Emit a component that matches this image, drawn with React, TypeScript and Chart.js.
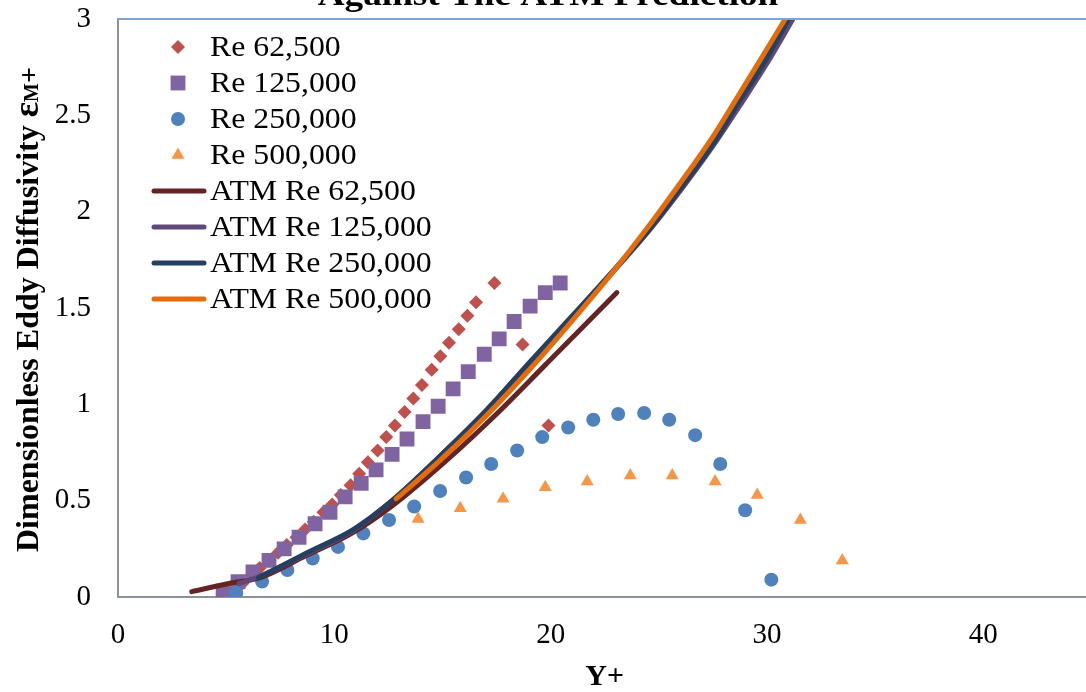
import React, { useEffect, useRef } from 'react';
import { Chart, registerables } from 'chart.js';
import { drawPoint } from 'chart.js/helpers';

Chart.register(...registerables);

// ---- Data ----
const re62500X = [4.9, 5.3, 5.75, 6.15, 6.55, 7.0, 7.4, 7.8, 8.25, 8.65, 9.05, 9.5, 9.9, 10.3, 10.75, 11.15, 11.55, 12.0, 12.4, 12.8, 13.25, 13.65, 14.05, 14.5, 14.9, 15.3, 15.75, 16.15, 16.55, 17.4, 18.7, 19.9];
const re62500Y = [0.0, 0.03, 0.07, 0.11, 0.15, 0.19, 0.23, 0.27, 0.31, 0.35, 0.39, 0.44, 0.48, 0.53, 0.58, 0.64, 0.70, 0.76, 0.83, 0.89, 0.96, 1.03, 1.10, 1.18, 1.25, 1.32, 1.39, 1.46, 1.53, 1.63, 1.31, 0.89];

const re125000X = [4.86, 5.55, 6.24, 6.98, 7.68, 8.37, 9.11, 9.8, 10.5, 11.24, 11.93, 12.67, 13.36, 14.1, 14.8, 15.49, 16.19, 16.93, 17.62, 18.31, 19.05, 19.75, 20.44];
const re125000Y = [0.03, 0.08, 0.13, 0.19, 0.25, 0.31, 0.38, 0.44, 0.52, 0.59, 0.66, 0.74, 0.82, 0.91, 0.99, 1.08, 1.17, 1.26, 1.34, 1.43, 1.51, 1.58, 1.63];

const re250000X = [5.46, 6.66, 7.83, 9.0, 10.17, 11.34, 12.53, 13.69, 14.89, 16.09, 17.25, 18.45, 19.61, 20.81, 21.97, 23.12, 24.32, 25.48, 26.68, 27.84, 28.99, 30.2];
const re250000Y = [0.02, 0.08, 0.14, 0.2, 0.26, 0.33, 0.4, 0.47, 0.55, 0.62, 0.69, 0.76, 0.83, 0.88, 0.92, 0.95, 0.955, 0.92, 0.84, 0.69, 0.45, 0.09];

const re500000X = [13.87, 15.82, 17.8, 19.75, 21.69, 23.68, 25.62, 27.6, 29.55, 31.54, 33.48];
const re500000Y = [0.405, 0.46, 0.51, 0.57, 0.6, 0.63, 0.63, 0.6, 0.53, 0.4, 0.19];

const atm62500X = [3.41, 5.18, 6.57, 8.7, 10.8, 12.7, 15.2, 17.5, 19.8, 21.83, 23.06];
const atm62500Y = [0.028, 0.071, 0.1, 0.215, 0.33, 0.475, 0.71, 0.95, 1.21, 1.44, 1.58];

const atm125000X = [5.6, 6.5, 8.74, 10.87, 12.72, 14.74, 17.0, 19.0, 21.0, 22.3, 24.5, 26.0, 27.5, 28.8, 30.0, 31.2];
const atm125000Y = [0.07, 0.105, 0.225, 0.345, 0.505, 0.715, 0.965, 1.21, 1.455, 1.615, 1.895, 2.11, 2.34, 2.56, 2.77, 3.0];

const atm250000X = [6.5, 8.74, 10.87, 12.72, 14.74, 17.0, 19.0, 21.0, 22.3, 24.5, 26.0, 27.5, 28.7, 29.9, 31.0];
const atm250000Y = [0.1, 0.23, 0.35, 0.505, 0.715, 0.965, 1.215, 1.46, 1.62, 1.9, 2.12, 2.35, 2.57, 2.78, 3.0];

const atm500000X = [12.86, 14.9, 17.1, 19.1, 21.04, 22.9, 24.5, 26.0, 27.5, 28.5, 29.7, 30.84];
const atm500000Y = [0.51, 0.71, 0.95, 1.19, 1.44, 1.69, 1.92, 2.15, 2.39, 2.57, 2.79, 3.0];

const seriesLabels = ['Re 62,500', 'Re 125,000', 'Re 250,000', 'Re 500,000', 'ATM Re 62,500', 'ATM Re 125,000', 'ATM Re 250,000', 'ATM Re 500,000'];

const xAxisMin = 0;
const xAxisMax = 45;
const xAxisStep = 10;
const yAxisMin = 0;
const yAxisMax = 3;
const yAxisStep = 0.5;

const chartTitle = 'Against The ATM Prediction';
const xAxisTitle = 'Y+';
const yTitleParts = [
  { text: 'Dimensionless Eddy Diffusivity ', size: 32, dy: 0 },
  { text: 'ε', size: 36, dy: 0 },
  { text: 'M', size: 20, dy: 0 },
  { text: '+', size: 28, dy: 0 },
];

const SERIF = '"Liberation Serif", "Times New Roman", serif';

const zip = (xs: number[], ys: number[]) => xs.map((x, i) => ({ x, y: ys[i] }));

const markerSet = (label: string, xs: number[], ys: number[], color: string, style: string, radius: number, order: number) => ({
  label,
  data: zip(xs, ys),
  showLine: false,
  pointStyle: style,
  pointRadius: radius,
  pointHoverRadius: radius,
  pointBorderWidth: 0,
  backgroundColor: color,
  borderColor: color,
  order,
});

const lineSet = (label: string, xs: number[], ys: number[], color: string, order: number) => ({
  label,
  data: zip(xs, ys),
  showLine: true,
  pointRadius: 0,
  pointHoverRadius: 0,
  borderWidth: 5,
  borderColor: color,
  backgroundColor: color,
  borderCapStyle: 'round',
  borderJoinStyle: 'round',
  cubicInterpolationMode: 'monotone',
  fill: false,
  order,
});

const extrasPlugin = {
  id: 'extras',
  afterDatasetsDraw(chart: any) {
    const ctx = chart.ctx;
    const { left, top } = chart.chartArea;
    ctx.save();
    chart.data.datasets.forEach((ds: any, i: number) => {
      const cy = top + 28 + i * 36;
      if (ds.showLine) {
        ctx.strokeStyle = ds.borderColor;
        ctx.lineWidth = 5;
        ctx.lineCap = 'round';
        ctx.beginPath();
        ctx.moveTo(left + 36, cy);
        ctx.lineTo(left + 86, cy);
        ctx.stroke();
      } else {
        ctx.fillStyle = ds.backgroundColor;
        ctx.strokeStyle = ds.borderColor;
        drawPoint(ctx, { pointStyle: ds.pointStyle, radius: ds.pointRadius, rotation: 0, borderWidth: 0 }, left + 60, cy);
      }
      ctx.fillStyle = '#000';
      ctx.font = `30px ${SERIF}`;
      ctx.textAlign = 'left';
      ctx.textBaseline = 'middle';
      ctx.save();
      ctx.translate(left + 92, cy + 1);
      ctx.scale(1.06, 1);
      ctx.fillText(ds.label, 0, 0);
      ctx.restore();
    });
    ctx.restore();
  },
  afterDraw(chart: any) {
    const ctx = chart.ctx;
    const { left, right, top } = chart.chartArea;
    ctx.save();
    // top border of the plot area
    ctx.strokeStyle = '#7EA3D6';
    ctx.lineWidth = 2;
    ctx.beginPath();
    ctx.moveTo(left, top);
    ctx.lineTo(right, top);
    ctx.stroke();

    // chart title (mostly cut off at the top)
    ctx.fillStyle = '#000';
    ctx.font = `bold 31px ${SERIF}`;
    ctx.textAlign = 'center';
    ctx.textBaseline = 'alphabetic';
    ctx.save();
    ctx.translate(548, 5);
    ctx.scale(1.2, 1);
    ctx.fillText(chartTitle, 0, 0);
    ctx.restore();

    // x axis title
    ctx.font = `bold 30px ${SERIF}`;
    ctx.textBaseline = 'middle';
    ctx.fillText(xAxisTitle, (left + right) / 2, 677);

    // y axis title
    ctx.save();
    ctx.translate(38, 552);
    ctx.rotate(-Math.PI / 2);
    ctx.textAlign = 'left';
    ctx.textBaseline = 'alphabetic';
    let x = 0;
    yTitleParts.forEach((p) => {
      ctx.font = `bold ${p.size}px ${SERIF}`;
      ctx.fillText(p.text, x, p.dy);
      x += ctx.measureText(p.text).width;
    });
    ctx.restore();
    ctx.restore();
  },
};

export default function App() {
  const canvasRef = useRef<HTMLCanvasElement | null>(null);

  useEffect(() => {
    const canvas = canvasRef.current;
    if (!canvas) return;
    const chart = new Chart(canvas, {
      type: 'scatter',
      data: {
        datasets: [
          markerSet(seriesLabels[0], re62500X, re62500Y, '#C0504D', 'rectRot', 7, 7),
          markerSet(seriesLabels[1], re125000X, re125000Y, '#8064A2', 'rect', 10.5, 6),
          markerSet(seriesLabels[2], re250000X, re250000Y, '#4F81BD', 'circle', 7, 5),
          markerSet(seriesLabels[3], re500000X, re500000Y, '#F79646', 'triangle', 7.5, 4),
          lineSet(seriesLabels[4], atm62500X, atm62500Y, '#632523', 3),
          lineSet(seriesLabels[5], atm125000X, atm125000Y, '#5F497A', 2),
          lineSet(seriesLabels[6], atm250000X, atm250000Y, '#243F60', 1),
          lineSet(seriesLabels[7], atm500000X, atm500000Y, '#E46C0A', 0),
        ] as any,
      },
      options: {
        animation: false,
        responsive: false,
        devicePixelRatio: 1,
        layout: { padding: { left: 0, right: 4, top: 19, bottom: 0 } },
        plugins: {
          legend: { display: false },
          title: { display: false },
          tooltip: { enabled: false },
        },
        scales: {
          x: {
            type: 'linear',
            min: xAxisMin,
            max: xAxisMax,
            grid: { display: false, drawTicks: false },
            border: { display: true, color: '#8A9199', width: 2 },
            ticks: {
              stepSize: xAxisStep,
              includeBounds: false,
              color: '#000',
              font: { family: SERIF, size: 29 },
              padding: 21,
              maxRotation: 0,
              callback: (v: any) => String(Number(v)),
            },
            afterFit: (scale: any) => {
              scale.height = 95;
              scale.paddingLeft = 0;
              scale.paddingRight = 0;
            },
          },
          y: {
            type: 'linear',
            min: yAxisMin,
            max: yAxisMax,
            grid: { display: false, drawTicks: false },
            border: { display: true, color: '#8A9199', width: 2 },
            ticks: {
              stepSize: yAxisStep,
              color: '#000',
              font: { family: SERIF, size: 29 },
              padding: 27,
              callback: (v: any) => String(Number(v)),
            },
            afterFit: (scale: any) => {
              scale.width = 118;
              scale.paddingTop = 0;
              scale.paddingBottom = 0;
            },
          },
        },
      } as any,
      plugins: [extrasPlugin],
    });
    return () => chart.destroy();
  }, []);

  return (
    <div style={{ position: 'fixed', left: 0, top: 0, width: 1086, height: 692, overflow: 'hidden', background: '#fff' }}>
      <canvas ref={canvasRef} width={1102} height={692} style={{ display: 'block', width: 1102, height: 692 }} />
    </div>
  );
}
